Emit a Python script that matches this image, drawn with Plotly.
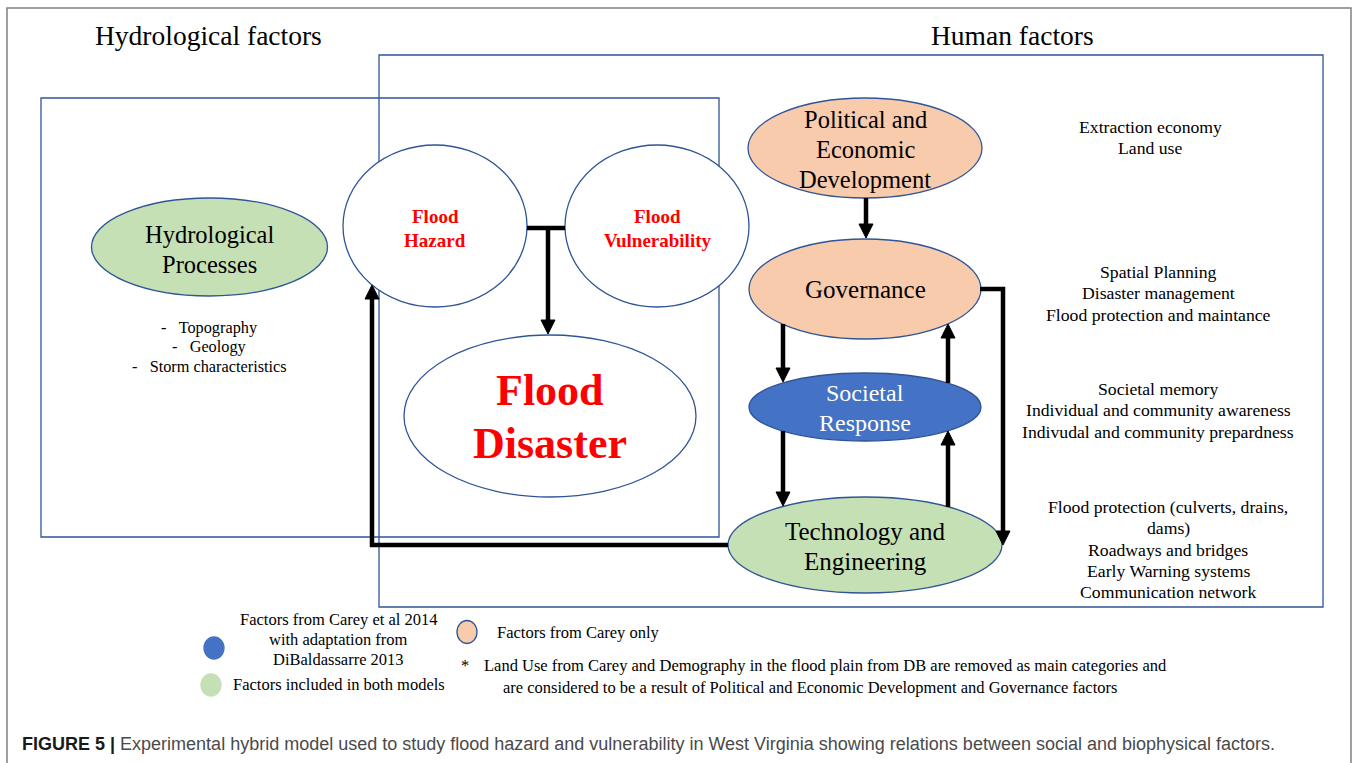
import plotly.graph_objects as go

# ---------------- data (texts) ----------------
group_titles = ["Hydrological factors", "Human factors"]
node_labels = [
    ["Hydrological", "Processes"],
    ["Flood", "Hazard"],
    ["Flood", "Vulnerability"],
    ["Flood", "Disaster"],
    ["Political and", "Economic", "Development"],
    ["Governance"],
    ["Societal", "Response"],
    ["Technology and", "Engineering"],
]
hydro_items = ["-\u00a0\u00a0\u00a0Topography", "-\u00a0\u00a0\u00a0Geology", "-\u00a0\u00a0\u00a0Storm characteristics"]
side_notes = [
    ["Extraction economy", "Land use"],
    ["Spatial Planning", "Disaster management", "Flood protection and maintance"],
    ["Societal memory", "Individual and community awareness", "Indivudal and community prepardness"],
    ["Flood protection (culverts, drains,", "dams)", "Roadways and bridges", "Early Warning systems", "Communication network"],
]
legend_labels = [
    ["Factors from Carey et al 2014", "with adaptation from", "DiBaldassarre 2013"],
    ["Factors included in both models"],
    ["Factors from Carey only"],
]
footnote = ["Land Use from Carey and Demography in the flood plain from DB are removed as main categories and",
            "are considered to be a result of Political and Economic Development and Governance factors"]
caption_bold = "FIGURE 5 |"
caption_text = ("Experimental hybrid model used to study flood hazard and vulnerability in West Virginia "
                "showing relations between social and biophysical factors.")

# ---------------- layout geometry / styles ----------------
W, H = 1358, 763
SERIF = "Liberation Serif, Times New Roman, serif"
SANS = "Liberation Sans, Arial, sans-serif"
OUTLINE = "#2f5597"
GREEN = "#c5e0b4"
PEACH = "#f8cbad"
BLUE = "#4472c4"
RED = "#ff0000"

# node geometry: (cx, cy, rx, ry, fill, first_line_y, line_step, font_size, font_color, bold)
node_geom = [
    (209.5, 247, 118, 49, GREEN, 234, 30, 24.5, "black", False),
    (435, 226, 92, 81, "white", 216, 24, 19, RED, True),
    (657, 226, 92, 81, "white", 216, 24, 19, RED, True),
    (550, 416, 146, 81, "white", 390, 53, 44, RED, True),
    (865, 148, 117, 50, PEACH, 119, 30, 24.5, "black", False),
    (865, 289, 116, 50, PEACH, 289, 30, 25, "black", False),
    (865, 407, 116, 34, BLUE, 393, 30, 24, "white", False),
    (865, 545, 137, 48, GREEN, 531, 30, 25, "black", False),
]

shapes = []
annotations = []


def add_lines(lines, x, y0, step, size, color="black", anchor="center", bold=False, family=SERIF):
    for i, ln in enumerate(lines):
        txt = f"<b>{ln}</b>" if bold else ln
        annotations.append(dict(x=x, y=y0 + i * step, text=txt, showarrow=False, xanchor=anchor,
                                yanchor="middle", font=dict(family=family, size=size, color=color)))


# outer frame
shapes.append(dict(type="rect", x0=7, y0=8, x1=1351, y1=790,
                   line=dict(color="#808080", width=1.5), fillcolor="rgba(0,0,0,0)", layer="below"))
# group boxes
shapes.append(dict(type="rect", x0=379, y0=55, x1=1323, y1=607,
                   line=dict(color=OUTLINE, width=1.3), fillcolor="rgba(0,0,0,0)"))
shapes.append(dict(type="rect", x0=41, y0=98, x1=719, y1=537,
                   line=dict(color=OUTLINE, width=1.3), fillcolor="rgba(0,0,0,0)"))

# nodes
for lab, (cx, cy, rx, ry, fill, ty, step, fs, fc, bold) in zip(node_labels, node_geom):
    shapes.append(dict(type="circle", x0=cx - rx, x1=cx + rx, y0=cy - ry, y1=cy + ry,
                       fillcolor=fill, line=dict(color=OUTLINE, width=1.3)))
    add_lines(lab, cx, ty, step, fs, color=fc, bold=bold)

# connectors (polylines); last point gets an arrowhead if flagged
connectors = [
    ([(527, 228), (565, 228)], False),
    ([(548, 228), (548, 334)], True),
    ([(866, 198), (866, 238)], True),
    ([(783, 324), (783, 382)], True),
    ([(948, 383), (948, 324)], True),
    ([(783, 431), (783, 506)], True),
    ([(948, 507), (948, 431)], True),
    ([(980, 289), (1003, 289), (1003, 545)], True),
    ([(728, 545), (372, 545), (372, 285)], True),
]
LW = 4.5
HL, HW = 14, 7
for pts, head in connectors:
    pts = list(pts)
    if head:
        (x1, y1), (x2, y2) = pts[-2], pts[-1]
        dx, dy = x2 - x1, y2 - y1
        L = (dx * dx + dy * dy) ** 0.5
        ux, uy = dx / L, dy / L
        bx, by = x2 - ux * HL, y2 - uy * HL
        pts[-1] = (x2 - ux * (HL - 2), y2 - uy * (HL - 2))
        px, py = -uy, ux
        tri = f"M {x2},{y2} L {bx + px * HW},{by + py * HW} L {bx - px * HW},{by - py * HW} Z"
        shapes.append(dict(type="path", path=tri, fillcolor="black", line=dict(color="black", width=1)))
    path = "M " + " L ".join(f"{x},{y}" for x, y in pts)
    shapes.append(dict(type="path", path=path, line=dict(color="black", width=LW), fillcolor="rgba(0,0,0,0)"))

# group titles
for t, (x, y) in zip(group_titles, [(208, 35), (1012, 35)]):
    add_lines([t], x, y, 0, 27.5)

# hydrological items
add_lines(hydro_items, 209, 327, 19.5, 16.3)

# side notes
note_pos = [(1150, 127), (1158, 272), (1158, 389), (1168, 507)]
for lines, (x, y) in zip(side_notes, note_pos):
    add_lines(lines, x, y, 21.3, 17.7)

# legend markers
legend_dots = [(214, 648, 10, 11, BLUE, BLUE), (211, 685, 10, 11, GREEN, GREEN), (467, 632, 10, 11.5, PEACH, OUTLINE)]
for cx, cy, rx, ry, fill, lc in legend_dots:
    shapes.append(dict(type="circle", x0=cx - rx, x1=cx + rx, y0=cy - ry, y1=cy + ry,
                       fillcolor=fill, line=dict(color=lc, width=1.3)))
add_lines(legend_labels[0], 338, 619, 20, 16.5)
add_lines(legend_labels[1], 231, 684, 0, 16.5, anchor="left")
add_lines(legend_labels[2], 495, 632, 0, 16.5, anchor="left")
add_lines(["*"], 459, 665, 0, 16.5, anchor="left")
add_lines([footnote[0]], 482, 665, 0, 16.5, anchor="left")
add_lines([footnote[1]], 501, 687, 0, 16.5, anchor="left")

# caption
annotations.append(dict(x=20, y=744, showarrow=False, xanchor="left", yanchor="middle",
                        text=f"<b>{caption_bold}</b> <span style='color:#4a4a4a'>{caption_text}</span>",
                        font=dict(family=SANS, size=18, color="#1a1a1a")))

fig = go.Figure()
fig.update_layout(
    width=W, height=H,
    margin=dict(l=0, r=0, t=0, b=0),
    paper_bgcolor="white", plot_bgcolor="white",
    xaxis=dict(range=[0, W], visible=False, fixedrange=True),
    yaxis=dict(range=[H, 0], visible=False, fixedrange=True),
    shapes=shapes, annotations=annotations, showlegend=False,
)
fig.write_html("out.html", config={"displayModeBar": False},
               post_script="document.body.style.margin='0';document.body.style.overflow='hidden';")
